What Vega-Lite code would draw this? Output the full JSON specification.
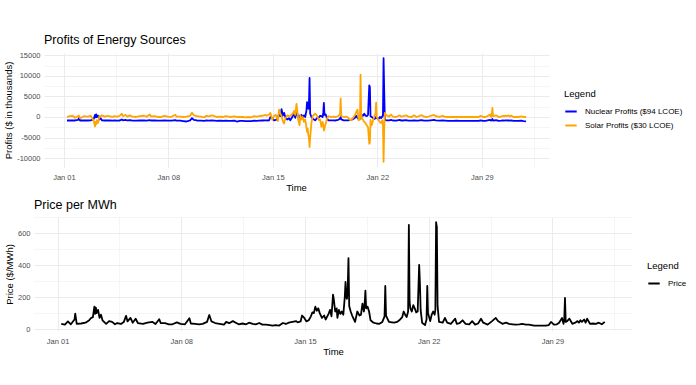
{
  "$schema": "https://vega.github.io/schema/vega-lite/v6.json",
  "background": "white",
  "padding": {"left": 3, "top": 33, "right": 5, "bottom": 5},
  "spacing": 6,
  "config": {
    "view": {"stroke": null},
    "font": "Liberation Sans",
    "axis": {"domain": false, "ticks": false, "tickSize": 0, "gridColor": "#EBEBEB", "labelColor": "#4D4D4D", "labelFontSize": 7.5, "titleFontSize": 9.5, "titleFontWeight": "normal", "titleColor": "black", "labelOverlap": false},
    "axisX": {"labelPadding": 6, "titlePadding": 2},
    "axisY": {"labelPadding": 4, "titlePadding": 3},
    "legend": {"titleFontSize": 9.5, "titleFontWeight": "normal", "titleColor": "black", "labelFontSize": 8, "labelColor": "black", "symbolStrokeWidth": 2, "symbolSize": 130, "rowPadding": 3, "titlePadding": 6, "labelOffset": 7},
    "title": {"fontSize": 12.5, "fontWeight": "normal", "anchor": "start", "frame": "group", "color": "black", "offset": 5}
  },
  "resolve": {"scale": {"x": "independent", "y": "independent", "color": "independent"}, "legend": {"color": "independent"}},
  "datasets": {
    "profits": [
      {"t": "2024-01-01T05:00", "nuclear": -850, "solar": 0},
      {"t": "2024-01-01T10:00", "nuclear": -850, "solar": 200},
      {"t": "2024-01-01T14:00", "nuclear": -800, "solar": 300},
      {"t": "2024-01-01T18:00", "nuclear": -850, "solar": -200},
      {"t": "2024-01-01T23:00", "nuclear": -700, "solar": 250},
      {"t": "2024-01-02T00:00", "nuclear": -300, "solar": 350},
      {"t": "2024-01-02T02:00", "nuclear": -850, "solar": -300},
      {"t": "2024-01-02T08:00", "nuclear": -850, "solar": 200},
      {"t": "2024-01-02T14:00", "nuclear": -850, "solar": 100},
      {"t": "2024-01-02T19:00", "nuclear": -800, "solar": 300},
      {"t": "2024-01-02T21:00", "nuclear": -700, "solar": -200},
      {"t": "2024-01-03T00:00", "nuclear": -500, "solar": -900},
      {"t": "2024-01-03T02:00", "nuclear": 500, "solar": -2300},
      {"t": "2024-01-03T03:00", "nuclear": -100, "solar": -1200},
      {"t": "2024-01-03T04:00", "nuclear": 650, "solar": -1800},
      {"t": "2024-01-03T05:00", "nuclear": 0, "solar": -800},
      {"t": "2024-01-03T07:00", "nuclear": 300, "solar": -1400},
      {"t": "2024-01-03T09:00", "nuclear": -600, "solar": 200},
      {"t": "2024-01-03T11:00", "nuclear": -300, "solar": 100},
      {"t": "2024-01-03T13:00", "nuclear": -800, "solar": 400},
      {"t": "2024-01-03T18:00", "nuclear": -850, "solar": 100},
      {"t": "2024-01-03T22:00", "nuclear": -800, "solar": 300},
      {"t": "2024-01-04T02:00", "nuclear": -850, "solar": 150},
      {"t": "2024-01-04T06:00", "nuclear": -900, "solar": 0},
      {"t": "2024-01-04T09:00", "nuclear": -850, "solar": 200},
      {"t": "2024-01-04T14:00", "nuclear": -900, "solar": 100},
      {"t": "2024-01-04T18:00", "nuclear": -850, "solar": 300},
      {"t": "2024-01-04T21:00", "nuclear": -600, "solar": 800},
      {"t": "2024-01-04T23:00", "nuclear": -800, "solar": 200},
      {"t": "2024-01-05T03:00", "nuclear": -700, "solar": 500},
      {"t": "2024-01-05T06:00", "nuclear": -850, "solar": 100},
      {"t": "2024-01-05T10:00", "nuclear": -750, "solar": 400},
      {"t": "2024-01-05T13:00", "nuclear": -850, "solar": 150},
      {"t": "2024-01-05T20:00", "nuclear": -900, "solar": 0},
      {"t": "2024-01-06T02:00", "nuclear": -850, "solar": 200},
      {"t": "2024-01-06T09:00", "nuclear": -850, "solar": 300},
      {"t": "2024-01-06T13:00", "nuclear": -900, "solar": 50},
      {"t": "2024-01-06T18:00", "nuclear": -750, "solar": 600},
      {"t": "2024-01-06T20:00", "nuclear": -850, "solar": 150},
      {"t": "2024-01-07T02:00", "nuclear": -850, "solar": 200},
      {"t": "2024-01-07T07:00", "nuclear": -900, "solar": 0},
      {"t": "2024-01-07T12:00", "nuclear": -900, "solar": 0},
      {"t": "2024-01-07T18:00", "nuclear": -850, "solar": 250},
      {"t": "2024-01-07T23:00", "nuclear": -900, "solar": 100},
      {"t": "2024-01-08T05:00", "nuclear": -900, "solar": 50},
      {"t": "2024-01-08T11:00", "nuclear": -750, "solar": 550},
      {"t": "2024-01-08T13:00", "nuclear": -900, "solar": 100},
      {"t": "2024-01-08T19:00", "nuclear": -900, "solar": 100},
      {"t": "2024-01-09T00:00", "nuclear": -1000, "solar": 0},
      {"t": "2024-01-09T05:00", "nuclear": -1100, "solar": 100},
      {"t": "2024-01-09T11:00", "nuclear": -800, "solar": 300},
      {"t": "2024-01-09T14:00", "nuclear": -300, "solar": 1050},
      {"t": "2024-01-09T17:00", "nuclear": -700, "solar": 400},
      {"t": "2024-01-09T22:00", "nuclear": -850, "solar": 200},
      {"t": "2024-01-10T04:00", "nuclear": -900, "solar": 100},
      {"t": "2024-01-10T10:00", "nuclear": -950, "solar": -100},
      {"t": "2024-01-10T13:00", "nuclear": -850, "solar": 300},
      {"t": "2024-01-10T17:00", "nuclear": -900, "solar": 150},
      {"t": "2024-01-10T22:00", "nuclear": -850, "solar": 400},
      {"t": "2024-01-11T02:00", "nuclear": -900, "solar": 200},
      {"t": "2024-01-11T06:00", "nuclear": -950, "solar": 0},
      {"t": "2024-01-11T11:00", "nuclear": -900, "solar": 100},
      {"t": "2024-01-11T16:00", "nuclear": -950, "solar": 0},
      {"t": "2024-01-11T20:00", "nuclear": -900, "solar": 200},
      {"t": "2024-01-12T01:00", "nuclear": -950, "solar": 100},
      {"t": "2024-01-12T05:00", "nuclear": -950, "solar": 0},
      {"t": "2024-01-12T10:00", "nuclear": -900, "solar": 150},
      {"t": "2024-01-12T14:00", "nuclear": -1100, "solar": 0},
      {"t": "2024-01-12T19:00", "nuclear": -950, "solar": 0},
      {"t": "2024-01-13T00:00", "nuclear": -950, "solar": 0},
      {"t": "2024-01-13T04:00", "nuclear": -1000, "solar": -100},
      {"t": "2024-01-13T08:00", "nuclear": -1000, "solar": 0},
      {"t": "2024-01-13T13:00", "nuclear": -1000, "solar": -100},
      {"t": "2024-01-13T18:00", "nuclear": -900, "solar": 200},
      {"t": "2024-01-13T22:00", "nuclear": -950, "solar": 100},
      {"t": "2024-01-14T02:00", "nuclear": -900, "solar": 200},
      {"t": "2024-01-14T07:00", "nuclear": -850, "solar": 300},
      {"t": "2024-01-14T12:00", "nuclear": -800, "solar": 500},
      {"t": "2024-01-14T14:00", "nuclear": -850, "solar": 300},
      {"t": "2024-01-14T18:00", "nuclear": -800, "solar": 600},
      {"t": "2024-01-14T20:00", "nuclear": 0, "solar": 1000},
      {"t": "2024-01-14T23:00", "nuclear": -300, "solar": -700},
      {"t": "2024-01-15T02:00", "nuclear": -800, "solar": 300},
      {"t": "2024-01-15T05:00", "nuclear": -700, "solar": 500},
      {"t": "2024-01-15T08:00", "nuclear": -300, "solar": -1000},
      {"t": "2024-01-15T10:00", "nuclear": 800, "solar": 1800},
      {"t": "2024-01-15T12:00", "nuclear": 200, "solar": 800},
      {"t": "2024-01-15T14:00", "nuclear": 1900, "solar": 200},
      {"t": "2024-01-15T16:00", "nuclear": 300, "solar": -1000},
      {"t": "2024-01-15T18:00", "nuclear": 1000, "solar": -1600},
      {"t": "2024-01-15T20:00", "nuclear": 0, "solar": -400},
      {"t": "2024-01-15T23:00", "nuclear": -600, "solar": 400},
      {"t": "2024-01-16T02:00", "nuclear": -300, "solar": 200},
      {"t": "2024-01-16T04:00", "nuclear": -800, "solar": 300},
      {"t": "2024-01-16T08:00", "nuclear": 200, "solar": 800},
      {"t": "2024-01-16T10:00", "nuclear": 900, "solar": 1500},
      {"t": "2024-01-16T12:00", "nuclear": -200, "solar": 500},
      {"t": "2024-01-16T14:00", "nuclear": 1200, "solar": 3200},
      {"t": "2024-01-16T15:00", "nuclear": 900, "solar": 1800},
      {"t": "2024-01-16T17:00", "nuclear": -200, "solar": -800},
      {"t": "2024-01-16T19:00", "nuclear": 300, "solar": -2000},
      {"t": "2024-01-16T20:00", "nuclear": -400, "solar": 500},
      {"t": "2024-01-16T22:00", "nuclear": 500, "solar": -600},
      {"t": "2024-01-17T00:00", "nuclear": -100, "solar": 0},
      {"t": "2024-01-17T02:00", "nuclear": 400, "solar": -1200},
      {"t": "2024-01-17T04:00", "nuclear": 0, "solar": -600},
      {"t": "2024-01-17T06:00", "nuclear": 1600, "solar": -2500},
      {"t": "2024-01-17T07:00", "nuclear": 3600, "solar": -3600},
      {"t": "2024-01-17T08:00", "nuclear": 2200, "solar": -2800},
      {"t": "2024-01-17T09:00", "nuclear": 2000, "solar": -4200},
      {"t": "2024-01-17T10:00", "nuclear": 3200, "solar": -5200},
      {"t": "2024-01-17T11:00", "nuclear": 9500, "solar": -7300},
      {"t": "2024-01-17T12:00", "nuclear": 800, "solar": -5000},
      {"t": "2024-01-17T14:00", "nuclear": 0, "solar": -1500},
      {"t": "2024-01-17T16:00", "nuclear": -400, "solar": 200},
      {"t": "2024-01-17T20:00", "nuclear": -800, "solar": 800},
      {"t": "2024-01-17T23:00", "nuclear": -300, "solar": 300},
      {"t": "2024-01-18T02:00", "nuclear": -100, "solar": -800},
      {"t": "2024-01-18T04:00", "nuclear": 300, "solar": -600},
      {"t": "2024-01-18T06:00", "nuclear": 200, "solar": -2400},
      {"t": "2024-01-18T08:00", "nuclear": 0, "solar": -1200},
      {"t": "2024-01-18T09:00", "nuclear": 1000, "solar": -1800},
      {"t": "2024-01-18T10:00", "nuclear": 3400, "solar": -3300},
      {"t": "2024-01-18T11:00", "nuclear": 500, "solar": -2800},
      {"t": "2024-01-18T13:00", "nuclear": 600, "solar": -1600},
      {"t": "2024-01-18T15:00", "nuclear": -300, "solar": -400},
      {"t": "2024-01-18T17:00", "nuclear": -800, "solar": 200},
      {"t": "2024-01-18T21:00", "nuclear": -800, "solar": 0},
      {"t": "2024-01-19T01:00", "nuclear": -800, "solar": 100},
      {"t": "2024-01-19T05:00", "nuclear": -850, "solar": 0},
      {"t": "2024-01-19T09:00", "nuclear": -700, "solar": 200},
      {"t": "2024-01-19T12:00", "nuclear": -400, "solar": 600},
      {"t": "2024-01-19T13:00", "nuclear": 0, "solar": 4500},
      {"t": "2024-01-19T14:00", "nuclear": -600, "solar": 200},
      {"t": "2024-01-19T18:00", "nuclear": -800, "solar": 0},
      {"t": "2024-01-19T22:00", "nuclear": -800, "solar": 100},
      {"t": "2024-01-20T01:00", "nuclear": -800, "solar": -200},
      {"t": "2024-01-20T05:00", "nuclear": -700, "solar": -800},
      {"t": "2024-01-20T08:00", "nuclear": -600, "solar": -400},
      {"t": "2024-01-20T12:00", "nuclear": -200, "solar": 500},
      {"t": "2024-01-20T14:00", "nuclear": 300, "solar": 1200},
      {"t": "2024-01-20T16:00", "nuclear": -200, "solar": 1800},
      {"t": "2024-01-20T18:00", "nuclear": -500, "solar": -800},
      {"t": "2024-01-20T20:00", "nuclear": -300, "solar": -600},
      {"t": "2024-01-20T21:00", "nuclear": -400, "solar": 10300},
      {"t": "2024-01-20T22:00", "nuclear": -200, "solar": 1000},
      {"t": "2024-01-20T23:00", "nuclear": 500, "solar": -300},
      {"t": "2024-01-21T01:00", "nuclear": 300, "solar": -700},
      {"t": "2024-01-21T03:00", "nuclear": 800, "solar": -1200},
      {"t": "2024-01-21T05:00", "nuclear": 300, "solar": -1500},
      {"t": "2024-01-21T07:00", "nuclear": 200, "solar": -2000},
      {"t": "2024-01-21T09:00", "nuclear": 500, "solar": -2500},
      {"t": "2024-01-21T11:00", "nuclear": 7700, "solar": -6500},
      {"t": "2024-01-21T12:00", "nuclear": 7200, "solar": -6200},
      {"t": "2024-01-21T13:00", "nuclear": 200, "solar": -700},
      {"t": "2024-01-21T15:00", "nuclear": 0, "solar": -2000},
      {"t": "2024-01-21T19:00", "nuclear": -500, "solar": 200},
      {"t": "2024-01-21T21:00", "nuclear": -300, "solar": 800},
      {"t": "2024-01-21T22:00", "nuclear": 0, "solar": 3500},
      {"t": "2024-01-21T23:00", "nuclear": -300, "solar": 0},
      {"t": "2024-01-22T02:00", "nuclear": -500, "solar": -800},
      {"t": "2024-01-22T04:00", "nuclear": 0, "solar": -1200},
      {"t": "2024-01-22T06:00", "nuclear": -300, "solar": -1500},
      {"t": "2024-01-22T08:00", "nuclear": 200, "solar": -800},
      {"t": "2024-01-22T09:00", "nuclear": 300, "solar": -1800},
      {"t": "2024-01-22T10:00", "nuclear": 14300, "solar": -10900},
      {"t": "2024-01-22T11:00", "nuclear": 6500, "solar": -3000},
      {"t": "2024-01-22T12:00", "nuclear": -500, "solar": 1000},
      {"t": "2024-01-22T14:00", "nuclear": -800, "solar": 500},
      {"t": "2024-01-22T19:00", "nuclear": -800, "solar": 100},
      {"t": "2024-01-22T22:00", "nuclear": -700, "solar": 600},
      {"t": "2024-01-23T01:00", "nuclear": -850, "solar": 100},
      {"t": "2024-01-23T06:00", "nuclear": -900, "solar": 0},
      {"t": "2024-01-23T12:00", "nuclear": -700, "solar": 400},
      {"t": "2024-01-23T14:00", "nuclear": -850, "solar": 100},
      {"t": "2024-01-23T18:00", "nuclear": -850, "solar": 200},
      {"t": "2024-01-23T22:00", "nuclear": -750, "solar": 400},
      {"t": "2024-01-24T02:00", "nuclear": -900, "solar": 100},
      {"t": "2024-01-24T07:00", "nuclear": -900, "solar": 0},
      {"t": "2024-01-24T11:00", "nuclear": -800, "solar": 400},
      {"t": "2024-01-24T15:00", "nuclear": -900, "solar": 0},
      {"t": "2024-01-24T19:00", "nuclear": -850, "solar": 200},
      {"t": "2024-01-24T23:00", "nuclear": -750, "solar": 450},
      {"t": "2024-01-25T02:00", "nuclear": -850, "solar": 150},
      {"t": "2024-01-25T08:00", "nuclear": -900, "solar": 0},
      {"t": "2024-01-25T14:00", "nuclear": -800, "solar": 300},
      {"t": "2024-01-25T19:00", "nuclear": -700, "solar": 500},
      {"t": "2024-01-25T22:00", "nuclear": -800, "solar": 200},
      {"t": "2024-01-26T04:00", "nuclear": -900, "solar": 50},
      {"t": "2024-01-26T09:00", "nuclear": -850, "solar": 250},
      {"t": "2024-01-26T13:00", "nuclear": -900, "solar": 50},
      {"t": "2024-01-26T18:00", "nuclear": -950, "solar": 0},
      {"t": "2024-01-26T22:00", "nuclear": -950, "solar": 0},
      {"t": "2024-01-27T03:00", "nuclear": -950, "solar": 0},
      {"t": "2024-01-27T07:00", "nuclear": -900, "solar": 50},
      {"t": "2024-01-27T12:00", "nuclear": -950, "solar": 0},
      {"t": "2024-01-27T16:00", "nuclear": -950, "solar": 0},
      {"t": "2024-01-27T23:00", "nuclear": -950, "solar": 0},
      {"t": "2024-01-28T08:00", "nuclear": -950, "solar": 0},
      {"t": "2024-01-28T15:00", "nuclear": -950, "solar": 0},
      {"t": "2024-01-28T19:00", "nuclear": -950, "solar": 0},
      {"t": "2024-01-28T22:00", "nuclear": -800, "solar": 300},
      {"t": "2024-01-29T02:00", "nuclear": -950, "solar": 0},
      {"t": "2024-01-29T06:00", "nuclear": -950, "solar": 0},
      {"t": "2024-01-29T09:00", "nuclear": -850, "solar": 200},
      {"t": "2024-01-29T13:00", "nuclear": -700, "solar": 600},
      {"t": "2024-01-29T15:00", "nuclear": -900, "solar": 0},
      {"t": "2024-01-29T16:00", "nuclear": -750, "solar": 500},
      {"t": "2024-01-29T17:00", "nuclear": -500, "solar": 2200},
      {"t": "2024-01-29T18:00", "nuclear": -850, "solar": 200},
      {"t": "2024-01-29T20:00", "nuclear": -850, "solar": 250},
      {"t": "2024-01-29T23:00", "nuclear": -750, "solar": 400},
      {"t": "2024-01-30T03:00", "nuclear": -950, "solar": 0},
      {"t": "2024-01-30T07:00", "nuclear": -900, "solar": 100},
      {"t": "2024-01-30T10:00", "nuclear": -850, "solar": 300},
      {"t": "2024-01-30T12:00", "nuclear": -900, "solar": 150},
      {"t": "2024-01-30T14:00", "nuclear": -800, "solar": 350},
      {"t": "2024-01-30T16:00", "nuclear": -850, "solar": 200},
      {"t": "2024-01-30T19:00", "nuclear": -800, "solar": 400},
      {"t": "2024-01-30T21:00", "nuclear": -900, "solar": 100},
      {"t": "2024-01-30T23:00", "nuclear": -800, "solar": 350},
      {"t": "2024-01-31T03:00", "nuclear": -950, "solar": 0},
      {"t": "2024-01-31T07:00", "nuclear": -950, "solar": 50},
      {"t": "2024-01-31T11:00", "nuclear": -950, "solar": 0},
      {"t": "2024-01-31T15:00", "nuclear": -900, "solar": 150},
      {"t": "2024-01-31T19:00", "nuclear": -1000, "solar": 0},
      {"t": "2024-01-31T23:00", "nuclear": -1050, "solar": 0}
    ],
    "price": [
      {"t": "2024-01-01T05:00", "price": 33},
      {"t": "2024-01-01T10:00", "price": 28},
      {"t": "2024-01-01T14:00", "price": 48},
      {"t": "2024-01-01T18:00", "price": 30},
      {"t": "2024-01-01T23:00", "price": 60},
      {"t": "2024-01-02T00:00", "price": 97},
      {"t": "2024-01-02T02:00", "price": 33},
      {"t": "2024-01-02T08:00", "price": 35},
      {"t": "2024-01-02T14:00", "price": 40},
      {"t": "2024-01-02T19:00", "price": 55},
      {"t": "2024-01-02T21:00", "price": 68},
      {"t": "2024-01-03T00:00", "price": 75},
      {"t": "2024-01-03T02:00", "price": 140},
      {"t": "2024-01-03T03:00", "price": 95},
      {"t": "2024-01-03T04:00", "price": 135},
      {"t": "2024-01-03T05:00", "price": 100},
      {"t": "2024-01-03T07:00", "price": 120},
      {"t": "2024-01-03T09:00", "price": 70},
      {"t": "2024-01-03T11:00", "price": 90},
      {"t": "2024-01-03T13:00", "price": 55},
      {"t": "2024-01-03T18:00", "price": 33},
      {"t": "2024-01-03T22:00", "price": 50},
      {"t": "2024-01-04T02:00", "price": 45},
      {"t": "2024-01-04T06:00", "price": 30},
      {"t": "2024-01-04T09:00", "price": 38},
      {"t": "2024-01-04T14:00", "price": 32},
      {"t": "2024-01-04T18:00", "price": 45},
      {"t": "2024-01-04T21:00", "price": 83},
      {"t": "2024-01-04T23:00", "price": 48},
      {"t": "2024-01-05T03:00", "price": 70},
      {"t": "2024-01-05T06:00", "price": 40},
      {"t": "2024-01-05T10:00", "price": 65},
      {"t": "2024-01-05T13:00", "price": 38},
      {"t": "2024-01-05T20:00", "price": 33},
      {"t": "2024-01-06T02:00", "price": 40},
      {"t": "2024-01-06T09:00", "price": 45},
      {"t": "2024-01-06T13:00", "price": 32},
      {"t": "2024-01-06T18:00", "price": 62},
      {"t": "2024-01-06T20:00", "price": 38},
      {"t": "2024-01-07T02:00", "price": 37},
      {"t": "2024-01-07T07:00", "price": 30},
      {"t": "2024-01-07T12:00", "price": 30},
      {"t": "2024-01-07T18:00", "price": 42},
      {"t": "2024-01-07T23:00", "price": 33},
      {"t": "2024-01-08T05:00", "price": 30},
      {"t": "2024-01-08T11:00", "price": 68},
      {"t": "2024-01-08T13:00", "price": 35},
      {"t": "2024-01-08T19:00", "price": 33},
      {"t": "2024-01-09T00:00", "price": 30},
      {"t": "2024-01-09T05:00", "price": 33},
      {"t": "2024-01-09T11:00", "price": 45},
      {"t": "2024-01-09T14:00", "price": 88},
      {"t": "2024-01-09T17:00", "price": 48},
      {"t": "2024-01-09T22:00", "price": 38},
      {"t": "2024-01-10T04:00", "price": 33},
      {"t": "2024-01-10T10:00", "price": 28},
      {"t": "2024-01-10T13:00", "price": 45},
      {"t": "2024-01-10T17:00", "price": 37},
      {"t": "2024-01-10T22:00", "price": 50},
      {"t": "2024-01-11T02:00", "price": 40},
      {"t": "2024-01-11T06:00", "price": 30},
      {"t": "2024-01-11T11:00", "price": 35},
      {"t": "2024-01-11T16:00", "price": 30},
      {"t": "2024-01-11T20:00", "price": 40},
      {"t": "2024-01-12T01:00", "price": 33},
      {"t": "2024-01-12T05:00", "price": 30},
      {"t": "2024-01-12T10:00", "price": 38},
      {"t": "2024-01-12T14:00", "price": 28},
      {"t": "2024-01-12T19:00", "price": 28},
      {"t": "2024-01-13T00:00", "price": 25},
      {"t": "2024-01-13T04:00", "price": 22},
      {"t": "2024-01-13T08:00", "price": 25},
      {"t": "2024-01-13T13:00", "price": 22},
      {"t": "2024-01-13T18:00", "price": 38},
      {"t": "2024-01-13T22:00", "price": 32},
      {"t": "2024-01-14T02:00", "price": 40},
      {"t": "2024-01-14T07:00", "price": 45},
      {"t": "2024-01-14T12:00", "price": 50},
      {"t": "2024-01-14T14:00", "price": 42},
      {"t": "2024-01-14T18:00", "price": 48},
      {"t": "2024-01-14T20:00", "price": 85},
      {"t": "2024-01-14T23:00", "price": 70},
      {"t": "2024-01-15T02:00", "price": 48},
      {"t": "2024-01-15T05:00", "price": 55},
      {"t": "2024-01-15T08:00", "price": 80},
      {"t": "2024-01-15T10:00", "price": 105},
      {"t": "2024-01-15T12:00", "price": 100},
      {"t": "2024-01-15T14:00", "price": 140},
      {"t": "2024-01-15T16:00", "price": 115},
      {"t": "2024-01-15T18:00", "price": 130},
      {"t": "2024-01-15T20:00", "price": 100},
      {"t": "2024-01-15T23:00", "price": 70},
      {"t": "2024-01-16T02:00", "price": 85},
      {"t": "2024-01-16T04:00", "price": 60},
      {"t": "2024-01-16T08:00", "price": 95},
      {"t": "2024-01-16T10:00", "price": 120},
      {"t": "2024-01-16T12:00", "price": 80},
      {"t": "2024-01-16T14:00", "price": 215},
      {"t": "2024-01-16T15:00", "price": 190},
      {"t": "2024-01-16T17:00", "price": 110},
      {"t": "2024-01-16T19:00", "price": 130},
      {"t": "2024-01-16T20:00", "price": 70},
      {"t": "2024-01-16T22:00", "price": 120},
      {"t": "2024-01-17T00:00", "price": 95},
      {"t": "2024-01-17T02:00", "price": 110},
      {"t": "2024-01-17T04:00", "price": 90},
      {"t": "2024-01-17T06:00", "price": 200},
      {"t": "2024-01-17T07:00", "price": 295},
      {"t": "2024-01-17T08:00", "price": 200},
      {"t": "2024-01-17T09:00", "price": 190},
      {"t": "2024-01-17T10:00", "price": 260},
      {"t": "2024-01-17T11:00", "price": 445},
      {"t": "2024-01-17T12:00", "price": 145},
      {"t": "2024-01-17T14:00", "price": 110},
      {"t": "2024-01-17T16:00", "price": 85},
      {"t": "2024-01-17T20:00", "price": 45},
      {"t": "2024-01-17T23:00", "price": 110},
      {"t": "2024-01-18T02:00", "price": 85},
      {"t": "2024-01-18T04:00", "price": 90},
      {"t": "2024-01-18T06:00", "price": 160},
      {"t": "2024-01-18T08:00", "price": 110},
      {"t": "2024-01-18T09:00", "price": 160},
      {"t": "2024-01-18T10:00", "price": 240},
      {"t": "2024-01-18T11:00", "price": 130},
      {"t": "2024-01-18T13:00", "price": 140},
      {"t": "2024-01-18T15:00", "price": 110},
      {"t": "2024-01-18T17:00", "price": 55},
      {"t": "2024-01-18T21:00", "price": 40},
      {"t": "2024-01-19T01:00", "price": 35},
      {"t": "2024-01-19T05:00", "price": 33},
      {"t": "2024-01-19T09:00", "price": 45},
      {"t": "2024-01-19T12:00", "price": 80},
      {"t": "2024-01-19T13:00", "price": 270},
      {"t": "2024-01-19T14:00", "price": 85},
      {"t": "2024-01-19T18:00", "price": 45},
      {"t": "2024-01-19T22:00", "price": 42},
      {"t": "2024-01-20T01:00", "price": 40},
      {"t": "2024-01-20T05:00", "price": 45},
      {"t": "2024-01-20T08:00", "price": 55},
      {"t": "2024-01-20T12:00", "price": 75},
      {"t": "2024-01-20T14:00", "price": 110},
      {"t": "2024-01-20T16:00", "price": 90},
      {"t": "2024-01-20T18:00", "price": 75},
      {"t": "2024-01-20T20:00", "price": 110},
      {"t": "2024-01-20T21:00", "price": 652},
      {"t": "2024-01-20T22:00", "price": 170},
      {"t": "2024-01-20T23:00", "price": 130},
      {"t": "2024-01-21T01:00", "price": 110},
      {"t": "2024-01-21T03:00", "price": 150},
      {"t": "2024-01-21T05:00", "price": 130},
      {"t": "2024-01-21T07:00", "price": 105},
      {"t": "2024-01-21T09:00", "price": 110},
      {"t": "2024-01-21T11:00", "price": 402},
      {"t": "2024-01-21T12:00", "price": 290},
      {"t": "2024-01-21T13:00", "price": 120},
      {"t": "2024-01-21T15:00", "price": 40},
      {"t": "2024-01-21T19:00", "price": 25},
      {"t": "2024-01-21T21:00", "price": 60},
      {"t": "2024-01-21T22:00", "price": 270},
      {"t": "2024-01-21T23:00", "price": 100},
      {"t": "2024-01-22T02:00", "price": 50},
      {"t": "2024-01-22T04:00", "price": 90},
      {"t": "2024-01-22T06:00", "price": 110},
      {"t": "2024-01-22T08:00", "price": 90},
      {"t": "2024-01-22T09:00", "price": 120},
      {"t": "2024-01-22T10:00", "price": 669},
      {"t": "2024-01-22T11:00", "price": 640},
      {"t": "2024-01-22T12:00", "price": 145},
      {"t": "2024-01-22T14:00", "price": 45},
      {"t": "2024-01-22T19:00", "price": 40},
      {"t": "2024-01-22T22:00", "price": 70},
      {"t": "2024-01-23T01:00", "price": 40},
      {"t": "2024-01-23T06:00", "price": 33},
      {"t": "2024-01-23T12:00", "price": 65},
      {"t": "2024-01-23T14:00", "price": 33},
      {"t": "2024-01-23T18:00", "price": 38},
      {"t": "2024-01-23T22:00", "price": 55},
      {"t": "2024-01-24T02:00", "price": 33},
      {"t": "2024-01-24T07:00", "price": 30},
      {"t": "2024-01-24T11:00", "price": 50},
      {"t": "2024-01-24T15:00", "price": 28},
      {"t": "2024-01-24T19:00", "price": 35},
      {"t": "2024-01-24T23:00", "price": 65},
      {"t": "2024-01-25T02:00", "price": 40},
      {"t": "2024-01-25T08:00", "price": 28},
      {"t": "2024-01-25T14:00", "price": 50},
      {"t": "2024-01-25T19:00", "price": 70},
      {"t": "2024-01-25T22:00", "price": 50},
      {"t": "2024-01-26T04:00", "price": 33},
      {"t": "2024-01-26T09:00", "price": 40},
      {"t": "2024-01-26T13:00", "price": 33},
      {"t": "2024-01-26T18:00", "price": 30},
      {"t": "2024-01-26T22:00", "price": 28},
      {"t": "2024-01-27T03:00", "price": 30},
      {"t": "2024-01-27T07:00", "price": 33},
      {"t": "2024-01-27T12:00", "price": 28},
      {"t": "2024-01-27T16:00", "price": 28},
      {"t": "2024-01-27T23:00", "price": 22},
      {"t": "2024-01-28T08:00", "price": 22},
      {"t": "2024-01-28T15:00", "price": 22},
      {"t": "2024-01-28T19:00", "price": 25},
      {"t": "2024-01-28T22:00", "price": 45},
      {"t": "2024-01-29T02:00", "price": 28},
      {"t": "2024-01-29T06:00", "price": 30},
      {"t": "2024-01-29T09:00", "price": 40},
      {"t": "2024-01-29T13:00", "price": 70},
      {"t": "2024-01-29T15:00", "price": 33},
      {"t": "2024-01-29T16:00", "price": 60},
      {"t": "2024-01-29T17:00", "price": 195},
      {"t": "2024-01-29T18:00", "price": 45},
      {"t": "2024-01-29T20:00", "price": 50},
      {"t": "2024-01-29T23:00", "price": 65},
      {"t": "2024-01-30T03:00", "price": 33},
      {"t": "2024-01-30T07:00", "price": 40},
      {"t": "2024-01-30T10:00", "price": 50},
      {"t": "2024-01-30T12:00", "price": 40},
      {"t": "2024-01-30T14:00", "price": 55},
      {"t": "2024-01-30T16:00", "price": 45},
      {"t": "2024-01-30T19:00", "price": 60},
      {"t": "2024-01-30T21:00", "price": 40},
      {"t": "2024-01-30T23:00", "price": 65},
      {"t": "2024-01-31T03:00", "price": 33},
      {"t": "2024-01-31T07:00", "price": 35},
      {"t": "2024-01-31T11:00", "price": 33},
      {"t": "2024-01-31T15:00", "price": 40},
      {"t": "2024-01-31T19:00", "price": 30},
      {"t": "2024-01-31T23:00", "price": 45}
    ]
  },
  "vconcat": [
    {
      "title": {"text": "Profits of Energy Sources", "dx": 10},
      "width": 515,
      "height": 114,
      "data": {"name": "profits"},
      "layer": [
        {
          "mark": {"type": "line", "strokeWidth": 1.8, "strokeJoin": "round"},
          "encoding": {
            "x": {"field": "t", "type": "temporal", "title": "Time",
              "scale": {"domain": [{"year": 2023, "month": 12, "date": 30, "hours": 16}, {"year": 2024, "month": 2, "date": 2, "hours": 12}], "rangeMin": 10},
              "axis": {
                "values": [{"year": 2024, "month": 1, "date": 1}, {"year": 2024, "month": 1, "date": 4, "hours": 12}, {"year": 2024, "month": 1, "date": 8}, {"year": 2024, "month": 1, "date": 11, "hours": 12}, {"year": 2024, "month": 1, "date": 15}, {"year": 2024, "month": 1, "date": 18, "hours": 12}, {"year": 2024, "month": 1, "date": 22}, {"year": 2024, "month": 1, "date": 25, "hours": 12}, {"year": 2024, "month": 1, "date": 29}, {"year": 2024, "month": 2, "date": 1, "hours": 12}],
                "labelExpr": "hours(datum.value) == 12 ? '' : timeFormat(datum.value, '%b %d')",
                "tickCount": 40,
                "titleX": 262,
                "gridWidth": {"condition": {"test": "hours(datum.value) == 12", "value": 0.5}, "value": 1}
              }
            },
            "y": {"field": "nuclear", "type": "quantitative", "title": "Profits ($ in thousands)",
              "scale": {"domain": [-12160, 15560], "nice": false, "zero": false},
              "axis": {
                "values": [-10000, -7500, -5000, -2500, 0, 2500, 5000, 7500, 10000, 12500, 15000],
                "labelExpr": "datum.value % 5000 == 0 ? '' + datum.value : ''",
                "tickCount": 40,
                "labelPadding": -6,
                "gridWidth": {"condition": {"test": "datum.value % 5000 != 0", "value": 0.5}, "value": 1}
              }
            },
            "color": {"datum": "Nuclear Profits ($94 LCOE)", "type": "nominal",
              "scale": {"domain": ["Nuclear Profits ($94 LCOE)", "Solar Profits ($30 LCOE)"], "range": ["#0000FF", "#FFA500"]},
              "legend": {"title": "Legend", "orient": "none", "legendX": 530, "legendY": 36}
            }
          }
        },
        {
          "mark": {"type": "line", "strokeWidth": 1.8, "strokeJoin": "round"},
          "encoding": {
            "x": {"field": "t", "type": "temporal"},
            "y": {"field": "solar", "type": "quantitative"},
            "color": {"datum": "Solar Profits ($30 LCOE)", "type": "nominal"}
          }
        }
      ]
    },
    {
      "title": {"text": "Price per MWh", "offset": 2},
      "width": 598,
      "height": 114,
      "data": {"name": "price"},
      "mark": {"type": "line", "strokeWidth": 1.8, "strokeJoin": "round"},
      "encoding": {
        "x": {"field": "t", "type": "temporal", "title": "Time",
          "scale": {"domain": [{"year": 2023, "month": 12, "date": 30, "hours": 16}, {"year": 2024, "month": 2, "date": 2, "hours": 12}]},
          "axis": {
            "values": [{"year": 2024, "month": 1, "date": 1}, {"year": 2024, "month": 1, "date": 4, "hours": 12}, {"year": 2024, "month": 1, "date": 8}, {"year": 2024, "month": 1, "date": 11, "hours": 12}, {"year": 2024, "month": 1, "date": 15}, {"year": 2024, "month": 1, "date": 18, "hours": 12}, {"year": 2024, "month": 1, "date": 22}, {"year": 2024, "month": 1, "date": 25, "hours": 12}, {"year": 2024, "month": 1, "date": 29}, {"year": 2024, "month": 2, "date": 1, "hours": 12}],
            "labelExpr": "hours(datum.value) == 12 ? '' : timeFormat(datum.value, '%b %d')",
            "tickCount": 40,
            "gridWidth": {"condition": {"test": "hours(datum.value) == 12", "value": 0.5}, "value": 1}
          }
        },
        "y": {"field": "price", "type": "quantitative", "title": "Price ($/MWh)",
          "scale": {"domain": [-12, 702], "nice": false, "zero": false},
          "axis": {
            "values": [0, 100, 200, 300, 400, 500, 600, 700],
            "labelExpr": "datum.value % 200 == 0 ? '' + datum.value : ''",
            "tickCount": 40,
            "gridWidth": {"condition": {"test": "datum.value % 200 != 0", "value": 0.5}, "value": 1}
          }
        },
        "color": {"datum": "Price", "type": "nominal",
          "scale": {"domain": ["Price"], "range": ["black"]},
          "legend": {"title": "Legend", "orient": "none", "legendX": 613, "legendY": 44}
        }
      }
    }
  ]
}
